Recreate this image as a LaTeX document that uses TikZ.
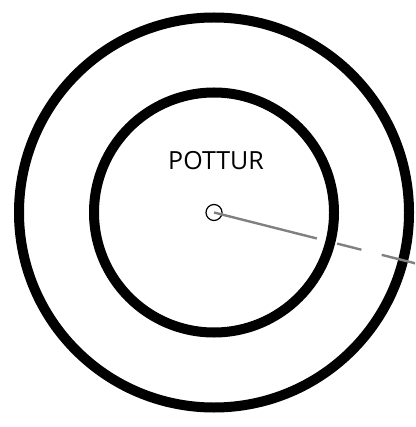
\documentclass[tikz,border=0pt]{standalone}
\usepackage{fontspec}
\setmainfont{Open Sans}
\definecolor{linegray}{RGB}{128,128,128}
\tikzset{
  ring/.style={circle, draw=black, line width=10pt, inner sep=0pt, fill=none},
  hub/.style={circle, draw=black, line width=1.2pt, inner sep=0pt, minimum size=16pt},
  pointer/.style={draw=linegray, line width=2.4pt, dash pattern=on 106pt off 21pt on 25pt off 21pt on 300pt},
  lbl/.style={font=\fontsize{25}{30}\selectfont, inner sep=0pt}
}
\begin{document}
\begin{tikzpicture}[x=1pt,y=-1pt]
\useasboundingbox (0,0) rectangle (415,427);
\clip (0,0) rectangle (415,427);
\node[ring, minimum size=390pt] (outer) at (214,212.5) {};
\node[ring, minimum size=240pt] (inner) at (214,212.5) {};
\node[hub] (dot) at (214,212.5) {};
\node[lbl, anchor=base] (title) at (216,170) {POTTUR};
\coordinate (tip) at (446.8,271.3);
\draw[pointer] (dot.center) -- (tip);
\end{tikzpicture}
\end{document}
